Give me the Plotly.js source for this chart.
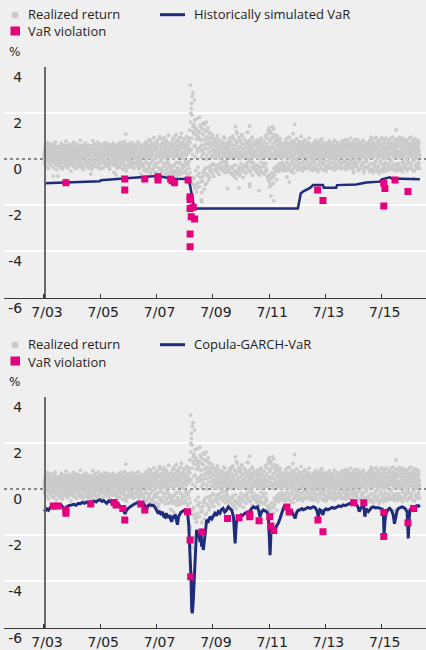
<!DOCTYPE html>
<html>
<head>
<meta charset="utf-8">
<script src="https://cdn.plot.ly/plotly-3.0.1.min.js"></script>
<style>
  html, body { margin: 0; padding: 0; background: #efefef; }
  #chart { width: 426px; height: 650px; }
</style>
</head>
<body>
<div id="chart"></div>
<script>
// ---- Daily realized returns (%, thinned), two arrays per calendar year ----
const returns2003 = [0.21, -0.12, 0.45, 0.08, 0.62, -0.31, 0.15, 0.33, -0.05, 0.71, 0.02, -0.42, 0.27, 0.51, -0.18, 0.09, 0.38, -0.26, 0.66, 0.12, -0.08, 0.44, 0.19, -0.35, 0.57, 0.03, 0.29, -0.15, 0.48, 0.11, 0.74, -0.22, 0.36, 0.06, -0.47, 0.25, 0.53, -0.02];
const returns2003b = [0.12, 0.35, -0.2, 0.5, 0.04, 0.27, -0.33, 0.41, 0.16, -0.1, 0.58, 0.22, -0.04, 0.31, 0.46, -0.25, 0.09, 0.37, 0.18, -0.15, 0.52, 0.01, 0.29, -0.38, 0.43, 0.14, 0.62, -0.08, 0.24, 0.35, -0.28, 0.07, 0.48, 0.2, -0.12];
const returns2004 = [0.18, 0.42, -0.21, 0.07, 0.55, -0.36, 0.31, 0.13, 0.68, -0.09, 0.24, -0.44, 0.47, 0.02, 0.35, -0.17, 0.59, 0.16, -0.28, 0.41, 0.05, 0.77, -0.13, 0.22, 0.49, -0.38, 0.11, 0.33, -0.06, 0.63, 0.19, -0.24, 0.45, 0.08, -0.51, 0.28, 0.56, -0.11, 0.37, 0.14, -0.32, 0.72, 0.01, 0.26, -0.19, 0.52, 0.09, 0.39, -0.41, 0.17, 0.64, -0.07, 0.3, 0.46, -0.27, 0.12, 0.58, -0.14, 0.23, 0.81, -0.35, 0.04, 0.43, 0.2, -0.23, 0.61, 0.1, -0.46, 0.34, 0.15, 0.53, -0.1, 0.27, 0.69, -0.3];
const returns2004b = [0.26, -0.05, 0.4, 0.11, -0.27, 0.49, 0.2, 0.03, 0.36, -0.16, 0.57, 0.14, -0.34, 0.3, 0.08, 0.45, -0.09, 0.22, 0.6, -0.22, 0.17, 0.38, 0.0, 0.51, -0.3, 0.25, 0.12, 0.43, -0.14, 0.33, 0.06, 0.55, -0.25, 0.19, 0.4, -0.04, 0.28, 0.66, -0.18, 0.1, 0.47, 0.23, -0.37, 0.35, 0.02, 0.52, 0.15, -0.11, 0.41, 0.27, -0.29, 0.6, 0.09, 0.32, -0.06, 0.44, 0.18, -0.2, 0.54, 0.05, 0.37, -0.33, 0.24, 0.13, 0.48, -0.12, 0.3, 0.58, 0.02, 0.2];
const returns2005 = [0.25, -0.16, 0.48, 0.07, 0.36, -0.39, 0.6, 0.13, -0.08, 0.42, 0.2, -0.29, 0.54, 0.03, 0.31, -0.45, 0.17, 0.79, 0.1, -0.2, 0.45, 0.28, -0.12, 0.66, 0.05, 0.38, -0.34, 0.22, 0.51, -0.04, 0.14, 0.73, -0.25, 0.33, 0.09, -0.42, 0.47, 0.19, 0.62, -0.15, 0.26, 0.4, -0.09, 0.57, 0.02, -0.37, 0.3, 0.16, 0.7, -0.22, 0.11, 0.44, -0.06, 0.35, 0.52, -0.31, 0.21, 0.08, 0.64, -0.18, 0.39, 0.12, -0.44, 0.27, 0.58, 0.04, -0.14, 0.46, 0.23, -0.27, 0.67, 0.15, 0.32, -0.03, 0.49];
const returns2005b = [0.18, 0.4, -0.1, 0.29, 0.52, -0.26, 0.13, 0.35, 0.06, -0.19, 0.47, 0.24, -0.35, 0.58, 0.1, 0.32, -0.05, 0.43, 0.2, -0.28, 0.63, 0.15, 0.37, -0.13, 0.27, 0.5, 0.03, -0.31, 0.41, 0.22, 0.56, -0.08, 0.12, 0.34, -0.22, 0.48, 0.08, 0.3, -0.4, 0.6, 0.19, -0.02, 0.39, 0.25, -0.17, 0.53, 0.11, 0.44, -0.27, 0.2, 0.68, 0.05, -0.12, 0.36, 0.28, -0.33, 0.46, 0.14, 0.57, -0.07, 0.23, 0.4, -0.21, 0.1, 0.5, 0.31, -0.15, 0.62, 0.17, 0.02];
const returns2006 = [0.19, -0.24, 0.41, 0.06, 0.58, -0.13, 0.29, -0.4, 0.5, 0.12, 0.34, -0.07, 0.69, 0.18, -0.32, 0.44, 0.02, 0.26, -0.19, 0.61, 0.09, 0.37, -0.45, 0.21, 0.53, -0.1, 0.14, 0.76, -0.28, 0.32, 1.08, -0.52, 0.47, 0.05, 0.24, -0.36, 0.63, 0.16, -0.05, 0.4, 0.27, -0.21, 0.55, 0.08, 0.35, -0.3, 0.71, 0.13, -0.11, 0.46, 0.22, -0.38, 0.3, 0.59, 0.03, -0.17, 0.43, 0.2, 0.66, -0.26, 0.1, 0.38, -0.08, 0.52, 0.15, -0.42, 0.28, 0.48, -0.14, 0.07, 0.62, 0.25, -0.33, 0.41, 0.17];
const returns2006b = [0.3, -0.14, 0.5, 0.16, -0.3, 0.42, 0.07, 0.62, -0.2, 0.25, 0.38, -0.06, 0.54, 0.11, -0.36, 0.33, 0.2, 0.72, -0.12, 0.28, 0.04, 0.47, -0.25, 0.15, 0.58, 0.36, -0.42, 0.22, 0.64, -0.02, 0.4, 0.1, -0.29, 0.52, 0.26, -0.16, 0.44, 0.03, 0.68, -0.34, 0.19, 0.35, -0.09, 0.56, 0.13, -0.23, 0.46, 0.29, -0.4, 0.6, 0.08, 0.37, -0.18, 0.24, 0.5, 0.0, -0.3, 0.43, 0.17, 0.74, -0.11, 0.31, 0.55, -0.26, 0.12, 0.39, -0.04, 0.48, 0.21, -0.2];
const returns2007 = [0.28, -0.3, 0.52, 0.1, -0.48, 0.66, 0.17, 0.39, -0.15, 0.74, 0.04, -0.55, 0.45, 0.23, -0.22, 0.58, 0.12, 0.85, -0.38, 0.31, 0.07, -0.62, 0.49, 0.2, 0.69, -0.1, 0.36, -0.44, 0.55, 0.14, 0.92, -0.26, 0.41, 0.02, -0.58, 0.63, 0.25, -0.18, 0.47, 0.78, -0.35, 0.16, 0.53, -0.68, 0.3, 0.97, 0.08, -0.42, 0.6, 0.21, -0.12, 0.44, 0.86, -0.5, 0.33, 0.11, 0.71, -0.29, 0.5, 0.18, -0.65, 0.38, 0.82, 0.06, -0.4, 0.57, 0.27, -0.2, 0.68, 1.02, -0.33, 0.13, 0.46, -0.56, 0.35];
const returns2007b = [0.2, 0.47, -0.22, 0.35, -0.4, 0.6, 0.09, 0.3, -0.12, 0.52, 0.24, -0.47, 0.7, 0.15, 0.41, -0.3, 0.05, 0.58, 0.33, -0.2, 0.8, 0.12, -0.52, 0.44, 0.26, -0.08, 0.65, 0.18, -0.36, 0.5, 0.01, 0.38, -0.25, 0.75, 0.22, -0.6, 0.45, 0.1, 0.62, -0.15, 0.3, 0.88, -0.45, 0.19, 0.55, -0.03, 0.4, -0.55, 0.68, 0.25, 0.05, -0.32, 0.5, 0.92, -0.2, 0.34, 0.14, 0.6, -0.48, 0.28, 0.76, -0.1, 0.42, 0.2, -0.62, 0.55, 0.08, 0.36, -0.27, 0.64];
const returns2008 = [0.32, -0.45, 0.61, 0.15, -0.62, 0.84, 0.22, -0.3, 0.5, 0.95, -0.5, 0.1, 0.68, -0.2, 0.4, 1.05, -0.7, 0.27, 0.56, -0.38, 0.13, 0.79, -0.55, 0.35, 0.9, -0.15, 0.46, -0.66, 0.6, 0.18, 1.12, -0.4, 0.3, 0.72, -0.25, 0.52, 0.05, -0.6, 0.88, 0.24, -0.33, 0.63, 0.42, -0.48, 0.16, 0.98, -0.18, 0.37, 0.58, -0.7, 0.28, 0.75, -0.1, 0.45,
  1.25, -0.95, 3.2, 1.98, 2.19, 2.41, 0.9, 2.72, -1.1, 2.87, 1.2, -0.85, 1.5, 2.55, -1.13, 0.6, 1.35, -1.28, 1.05, -1.43, 0.3, 1.75, -0.7, 1.1, -1.2, 0.85];
const returns2008b = [0.4, -0.35, 0.7, 0.2, -0.55, 0.52, 0.05, 0.88, -0.28, 0.33, 0.62, -0.6, 0.15, 0.45, -0.15, 0.8, 0.26, -0.45, 0.58, 0.1, -0.68, 0.7, 0.36, -0.2, 0.95, 0.12, -0.5, 0.48, 0.22, -0.35, 0.66, 0.02, 0.85, -0.58, 0.3, 0.55, -0.12, 0.42, 0.18, -0.62, 0.75, 0.28, -0.25, 0.5, 0.9, -0.42, 0.35,
  0.7, -0.6, 1.6, 0.4, -1.0, 1.9, 0.2, 1.4, -0.8, 1.1, 0.55, -1.25, 1.7, 0.1, -0.5, 1.3, 0.85, -1.05, 0.45, 1.2, -0.35, 0.95];
const returns2009 = [0.9, -1.2, 1.8, 0.35, -0.8, 1.4, -1.77, 0.6, 1.1, -0.95, 0.2, 1.55, -0.6, 0.85, -1.3, 0.45, 1.25, -0.4, 0.7, 1.6, -1.05, 0.15, 0.95, -0.7, 1.35, 0.3, -0.9, 0.75, 1.15, -0.5, 0.5, -0.3, 0.92, 0.12, -0.62, 0.68, 1.05, -0.2, 0.4, -0.75, 0.58, 0.22, 0.88, -0.45, 0.33, 0.05, 0.72, -0.55, 0.48, 1.0, -0.25, 0.18, 0.62, -0.66, 0.38, 0.82, 0.02, -0.4, 0.55, 0.28, -0.15, 0.76, 0.42, -0.5, 0.1, 0.64, 0.95, -0.3, 0.36, 0.2, -0.6, 0.7, 0.47, -0.1, 0.58];
const returns2009b = [1.2, -0.6, 0.5, 1.45, -1.0, 0.8, 0.1, -1.45, 1.3, 0.4, -0.75, 1.05, 0.25, -0.5, 1.5, 0.6, -1.1, 0.9, 0.0, 1.2, -0.65, 0.45, 0.85, -0.35, 0.65, 1.1, -0.8, 0.3, 0.75, -0.45, 0.55, 0.15, -0.6, 0.9, 0.35, -0.25, 0.6, 0.05, 0.78, -0.5, 0.4, 0.2, -0.3, 0.7, 0.5, -0.55, 0.25, 0.85, 0.1, -0.4, 0.62, 0.32, -0.2, 0.5, 0.08, 0.74, -0.35, 0.44, 0.18, -0.5, 0.66, 0.28, -0.1, 0.52, 0.9, -0.42, 0.3, 0.12, 0.6, -0.22];
const returns2010 = [0.3, -0.55, 0.62, 0.15, -0.5, 0.48, 0.1, 0.8, 0.05, -0.4, 0.7, 0.25, -0.65, 0.95, 0.4, -0.3, 0.58, 0.12, -0.75, 0.85, 0.2, -0.5, 1.4, 0.35, -0.85, 0.68, 0.08, 1.1, -0.6, 0.45, 0.22, -0.38, 0.9, 0.1, -0.72, 0.55, 0.78, -0.2, 0.32, 1.02, -0.48, 0.18, 0.64, -0.8, 0.42, 0.06, 0.88, -0.35, 0.5, 0.26, -0.62, 0.74, 0.14, -0.25, 0.6, 1.15, -0.45, 0.38, 0.03, 0.82, 1.42, -0.55, 0.28, 0.66, -0.15, 0.48, 0.95, -0.7, 0.2, 0.57, -0.4, 0.12, 0.75, 0.36, -0.28];
const returns2010b = [0.4, -0.3, 0.72, 0.1, -0.45, 0.55, 0.25, 0.9, -0.6, 0.35, 0.05, 0.65, -0.4, 0.2, 1.0, -0.7, 0.45, 0.15, -0.55, 0.8, 0.3, -0.25, 0.6, 1.2, -0.65, 0.38, 0.1, 0.75, -0.5, 0.28, 0.92, -0.35, 0.5, 0.02, -0.6, 0.7, 0.22, 1.05, -0.42, 0.4, 0.12, 0.62, -0.3, 0.85, 0.18, -0.55, 0.52, 0.3, -0.2, 0.68, 1.15, -0.38, 0.25, 0.55, -0.1, 0.42, 0.78, -0.5, 0.2, 0.6, 0.05, -0.32, 0.48, 0.9, -0.15, 0.35, 0.62, -0.45, 0.28, 0.15];
const returns2011 = [0.25, -0.45, 0.6, 0.1, -0.6, 0.82, 0.35, -0.3, 0.5, 0.15, -0.7, 0.72, 0.04, 0.44, -0.5, 0.9, 0.2, -0.35, 0.62, 0.08, -0.62, 0.55, 0.3, -0.2, 0.78, 0.12, -0.55, 0.4, 0.95, -0.4, 0.22, 0.65, -0.75, 0.33, 1.1, -0.9, 0.5, 1.35, -1.0, 0.75, 0.15, 1.2, -0.85, 0.45, 0.9, -0.6, 1.4, 0.05, -1.05, 0.68, 0.28, -0.7, 1.05, 0.4, -0.45, 0.8, 0.18, -0.9, 0.6, 1.0, -0.35, 0.3, 0.72, -0.55, 0.1, 0.5, 0.88, -0.4, 0.2, 0.62, -0.25, 0.42, 0.05, 0.7, -0.5];
const returns2011b = [0.35, -0.25, 0.55, 0.15, -0.5, 0.7, 0.05, 0.45, -0.35, 0.62, 0.25, -0.55, 0.4, 0.85, -0.15, 0.3, 0.1, -0.6, 0.58, 0.2, 0.75, -0.3, 0.42, -0.65, 0.5, 1.0, -0.2, 0.28, 0.65, -0.5, 0.9, 0.1, -0.85, 1.25, 0.45, -0.7, 0.8, 0.3, -1.15, 1.1, 0.55, -0.6, 0.2, 0.95, -0.8, 0.5, 1.3, -0.4, 0.15, 0.75, -0.55, 0.35, 0.9, -0.3, 0.6, 0.1, -0.45, 0.52, 0.25, 0.8, -0.2, 0.4, 0.05, 0.65, -0.35, 0.3, 0.55, -0.15, 0.45, 0.2];
const returns2012 = [0.3, -0.4, 0.65, 0.12, -0.25, 0.5, 0.85, -0.5, 0.2, 0.42, -0.15, 0.7, 0.05, -0.45, 0.55, 0.28, 0.95, -0.3, 0.38, 0.1, -0.55, 0.62, 0.22, 0.8, -0.2, 0.45, 0.02, -0.6, 0.72, 0.18, 1.5, -0.35, 0.5, 0.25, -0.1, 0.88, 0.35, -0.48, 0.6, 0.08, 0.4, -0.28, 0.75, 0.15, -0.4, 0.52, 0.3, 0.98, -0.18, 0.44, 0.06, -0.52, 0.66, 0.2, 0.38, -0.3, 0.58, 0.12, 0.82, -0.42, 0.26, 0.48, -0.12, 0.7, 0.04, -0.36, 0.55, 0.32, 0.9, -0.22, 0.16, 0.6, -0.46, 0.4, 0.24];
const returns2012b = [0.2, 0.55, -0.3, 0.4, 0.1, -0.45, 0.7, 0.25, -0.15, 0.5, 0.9, -0.35, 0.32, 0.05, 0.62, -0.22, 0.45, 0.15, -0.5, 0.75, 0.28, -0.08, 0.58, 0.1, 1.1, -0.4, 0.36, 0.2, 0.68, -0.25, 0.45, 0.02, 0.85, -0.32, 0.25, 0.55, -0.12, 0.4, 0.65, -0.45, 0.18, 0.5, 0.3, -0.2, 0.72, 0.08, -0.38, 0.48, 0.22, 0.6, -0.1, 0.35, 0.8, -0.28, 0.15, 0.52, 0.4, -0.42, 0.26, 0.64, 0.05, -0.18, 0.46, 0.3, 0.7, -0.34, 0.2, 0.55, 0.1, -0.05];
const returns2013 = [0.2, -0.35, 0.55, 0.1, -0.5, 0.68, 0.3, -0.15, 0.45, 0.05, 0.8, -0.42, 0.25, 0.6, -0.25, 0.38, 0.12, -0.55, 0.72, 0.18, -0.08, 0.5, 0.32, -0.38, 0.62, 0.02, 0.42, -0.2, 0.88, 0.15, -0.45, 0.35, 0.58, -0.1, 0.27, 0.7, -0.3, 0.08, 0.48, -0.52, 0.22, 0.64, 0.1, -0.28, 0.52, 0.36, -0.05, 0.78, 0.14, -0.4, 0.3, 0.6, -0.18, 0.44, 0.04, 0.66, -0.34, 0.24, 0.5, -0.12, 0.82, 0.18, -0.48, 0.4, 0.07, 0.56, -0.22, 0.3, 0.72, -0.38, 0.12, 0.46, -0.06, 0.6, 0.26];
const returns2013b = [0.3, -0.2, 0.48, 0.15, -0.4, 0.6, 0.22, -0.08, 0.4, 0.72, -0.3, 0.1, 0.52, 0.28, -0.45, 0.35, 0.65, 0.05, -0.22, 0.45, 0.2, 0.8, -0.35, 0.3, 0.12, 0.55, -0.15, 0.38, 0.7, -0.48, 0.25, 0.08, 0.5, -0.25, 0.42, 0.62, 0.15, -0.4, 0.32, 0.56, -0.1, 0.22, 0.74, -0.32, 0.4, 0.06, 0.5, -0.2, 0.3, 0.66, 0.18, -0.42, 0.45, 0.1, 0.58, -0.14, 0.34, 0.76, -0.28, 0.2, 0.48, 0.02, -0.36, 0.54, 0.26, 0.68, -0.18, 0.38, 0.12, 0.5];
const returns2014 = [0.25, -0.3, 0.6, 0.12, -0.42, 0.5, 0.78, -0.18, 0.35, 0.05, 0.66, -0.38, 0.22, 0.48, -0.1, 0.85, 0.15, -0.45, 0.4, 0.28, -0.25, 0.7, 0.08, 0.52, -0.35, 0.3, 0.62, -0.05, 0.18, 0.9, -0.4, 0.42, 0.1, -0.2, 0.58, 0.34, -0.48, 0.75, 0.2, -0.12, 0.46, 0.03, 0.68, -0.32, 0.26, 0.55, -0.22, 0.38, 0.84, -0.5, 0.14, 0.5, -0.08, 0.64, 0.3, -0.42, 0.22, 0.72, 0.06, -0.28, 0.56, 0.36, -0.15, 0.8, 0.1, -0.46, 0.44, 0.2, 0.65, -0.35, 0.28, 0.52, -0.02, 0.4, 0.7];
const returns2014b = [0.35, -0.2, 0.52, 0.1, -0.35, 0.68, 0.22, 0.45, -0.12, 0.3, 0.75, -0.4, 0.18, 0.55, 0.05, -0.28, 0.62, 0.3, -0.15, 0.48, 0.8, -0.38, 0.26, 0.1, 0.58, -0.22, 0.4, 0.7, -0.05, 0.2, 0.5, -0.42, 0.35, 0.64, 0.12, -0.3, 0.45, 0.25, 0.85, -0.18, 0.32, 0.05, 0.6, -0.35, 0.42, 0.18, 0.72, -0.1, 0.3, 0.54, -0.45, 0.22, 0.66, 0.08, -0.25, 0.48, 0.36, 0.78, -0.2, 0.15, 0.56, -0.38, 0.28, 0.62, 0.02, 0.4, -0.12, 0.5, 0.24, 0.68];
const returns2015 = [0.3, -0.4, 0.65, 0.1, -0.55, 0.8, 0.2, -0.2, 0.5, 0.95, -0.45, 0.35, 0.05, 0.7, -0.6, 0.25, 0.55, -0.3, 0.42, 0.88, -0.15, 0.15, 0.62, -0.5, 0.38, 0.75, 0.02, -0.35, 0.5, 0.28, -0.62, 0.82, 0.18, -0.1, 0.6, 0.4, -0.48, 0.92, 0.08, -0.25, 0.55, 0.3, -0.55, 0.72, 0.12, 0.45, -0.4, 0.85, 0.22, -0.18, 0.6, 0.04, -0.5, 0.68, 0.35, -0.3, 0.78, 0.15, 0.5, -0.45, 0.26, 0.9, -0.08, 0.4, 0.62, -0.35, 0.2, 0.74, -0.22, 0.48, 0.1, -0.5, 0.58, 0.32, 0.85];
const returns2015b = [0.2, 0.5, -0.3, 0.38, 0.75, -0.45, 0.15, 0.6, 0.3, -0.2, 0.85, 0.08, -0.5, 0.45, 0.25, 0.7, -0.35, 0.12, 0.55, -0.1, 0.4, 0.92, -0.4, 0.22, 0.6, 0.05, -0.28, 0.5, 0.78, -0.52, 0.3, 0.1, 0.65, -0.18, 0.42, 0.85, -0.4, 0.2, 0.55, 0.02, -0.3, 0.72, 0.35, -0.15, 0.5, 0.9, -0.45, 0.25, 0.62, 0.1, -0.35, 0.45, 0.8, -0.22, 0.3, 0.58, -0.05, 0.4, 0.7, -0.42, 0.18, 0.52, 0.95, -0.25, 0.35, 0.65, 0.05, -0.38, 0.48, 0.22];
const returns2016 = [1.26, -0.3, 0.6, 0.15, -0.5, 0.75, 0.3, -0.2, 0.92, 0.05, -0.45, 0.55, 0.22, 0.8, -0.35, 0.4, 0.1, -0.55, 0.68, 0.28, -0.12, 0.5, 0.85, -0.4, 0.18, 0.62, -0.25, 0.38, 0.02, 0.72, -0.5, 0.45, 0.2, -0.18, 0.58, 0.9, -0.38, 0.3, 0.12, 0.65, -0.3, 0.48, 0.08, -0.45, 0.78, 0.25, -0.08, 0.55, 0.35, -0.52, 0.7, 0.15, 0.42, -0.22, 0.6, 0.04, 0.82, -0.35, 0.28, 0.5, -0.15, 0.66, 0.2, -0.4];
const returns2016b = [0.4, -0.2, 0.7, 0.1, -0.4, 0.55, 0.25, 0.85, -0.3, 0.35, 0.05, 0.62, -0.45, 0.2, 0.5, 0.9, -0.15, 0.3, 0.68, -0.35, 0.12, 0.48, 0.75, -0.25, 0.4, 0.02, 0.6, -0.42, 0.28, 0.8, -0.1, 0.45, 0.15, 0.65, -0.38, 0.22, 0.55, 0.95, -0.2, 0.35, 0.1, 0.7, -0.48, 0.3, 0.58, -0.05, 0.42, 0.88, -0.3, 0.18, 0.5, 0.25, -0.4, 0.62, 0.08, 0.45, 0.78, -0.22, 0.35, 0.15];

// Period covered by each block (decimal years)
const returnBlocks = [
  [2003.5, 2004, returns2003], [2003.5, 2004, returns2003b],
  [2004, 2005, returns2004], [2004, 2005, returns2004b],
  [2005, 2006, returns2005], [2005, 2006, returns2005b],
  [2006, 2007, returns2006], [2006, 2007, returns2006b],
  [2007, 2008, returns2007], [2007, 2008, returns2007b],
  [2008, 2009, returns2008], [2008, 2009, returns2008b],
  [2009, 2010, returns2009], [2009, 2010, returns2009b],
  [2010, 2011, returns2010], [2010, 2011, returns2010b],
  [2011, 2012, returns2011], [2011, 2012, returns2011b],
  [2012, 2013, returns2012], [2012, 2013, returns2012b],
  [2013, 2014, returns2013], [2013, 2014, returns2013b],
  [2014, 2015, returns2014], [2014, 2015, returns2014b],
  [2015, 2016, returns2015], [2015, 2016, returns2015b],
  [2016, 2016.85, returns2016], [2016, 2016.85, returns2016b]
];

// ---- Historically simulated VaR (%), decimal-year dates ----
const histVaRDates = [2003.5, 2004.5, 2005.48, 2005.52, 2006.44, 2007.14, 2007.5, 2007.7, 2008.03, 2008.57, 2008.67, 2008.72, 2008.78, 2008.84, 2012.52, 2012.58, 2012.62, 2012.7, 2012.88, 2012.95, 2013.06, 2013.41, 2013.44, 2013.88, 2013.91, 2014.59, 2014.95, 2015.42, 2015.5, 2015.78, 2015.85, 2016.85];
const histVaR = [-1.05, -1.01, -0.96, -0.92, -0.84, -0.77, -0.74, -0.77, -0.85, -0.87, -1.05, -1.34, -1.77, -2.14, -2.14, -1.7, -1.49, -1.41, -1.3, -1.25, -1.13, -1.13, -1.24, -1.24, -1.13, -1.1, -1.02, -0.98, -0.88, -0.79, -0.84, -0.88];
const histViolDates = [2004.28, 2006.37, 2006.37, 2007.08, 2007.55, 2007.55, 2008.0, 2008.05, 2008.14, 2008.62, 2008.69, 2008.69, 2008.69, 2008.8, 2008.73, 2008.85, 2008.69, 2008.69, 2013.22, 2013.41, 2015.57, 2015.61, 2015.57, 2015.97, 2016.43];
const histViolReturns = [-1.03, -0.87, -1.34, -0.87, -0.77, -0.91, -0.87, -0.94, -1.03, -0.91, -1.63, -1.75, -2.14, -2.09, -2.5, -2.6, -3.25, -3.8, -1.34, -1.8, -1.05, -1.28, -2.03, -0.91, -1.41];

// ---- Copula-GARCH VaR (%), decimal-year dates ----
const garchVaRDates = [2003.5, 2003.55, 2003.6, 2003.66, 2003.72, 2003.77, 2003.83, 2003.9, 2003.96, 2004.02, 2004.07, 2004.12, 2004.18, 2004.22, 2004.25, 2004.3, 2004.38, 2004.48, 2004.56, 2004.64, 2004.72, 2004.78, 2004.86, 2004.94, 2005.02, 2005.08, 2005.13, 2005.2, 2005.28, 2005.35, 2005.42, 2005.49, 2005.56, 2005.62, 2005.68, 2005.73, 2005.8, 2005.86, 2005.9, 2005.96, 2006.02, 2006.08, 2006.14, 2006.2, 2006.26, 2006.32, 2006.38, 2006.42, 2006.49, 2006.56, 2006.62, 2006.67, 2006.74, 2006.8, 2006.85, 2006.92, 2006.98, 2007.03, 2007.1, 2007.15, 2007.2, 2007.26, 2007.32, 2007.38, 2007.44, 2007.5, 2007.56, 2007.6, 2007.66, 2007.7, 2007.75, 2007.8, 2007.84, 2007.9, 2007.95, 2008.0, 2008.04, 2008.08, 2008.12, 2008.16, 2008.2, 2008.24, 2008.28, 2008.32, 2008.36, 2008.4, 2008.46, 2008.51, 2008.56, 2008.6, 2008.64, 2008.68, 2008.72, 2008.75, 2008.77, 2008.8, 2008.82, 2008.86, 2008.89, 2008.92, 2008.96, 2009.01, 2009.05, 2009.08, 2009.1, 2009.13, 2009.16, 2009.19, 2009.22, 2009.28, 2009.34, 2009.4, 2009.46, 2009.52, 2009.57, 2009.63, 2009.69, 2009.75, 2009.8, 2009.86, 2009.92, 2009.98, 2010.05, 2010.11, 2010.17, 2010.23, 2010.29, 2010.33, 2010.38, 2010.44, 2010.5, 2010.56, 2010.64, 2010.72, 2010.8, 2010.87, 2010.94, 2011.02, 2011.08, 2011.13, 2011.17, 2011.23, 2011.29, 2011.35, 2011.41, 2011.47, 2011.53, 2011.57, 2011.61, 2011.66, 2011.71, 2011.76, 2011.82, 2011.88, 2011.94, 2012.0, 2012.06, 2012.12, 2012.18, 2012.24, 2012.3, 2012.36, 2012.42, 2012.48, 2012.54, 2012.59, 2012.66, 2012.72, 2012.8, 2012.88, 2012.96, 2013.07, 2013.14, 2013.2, 2013.24, 2013.3, 2013.36, 2013.4, 2013.46, 2013.52, 2013.58, 2013.66, 2013.74, 2013.82, 2013.9, 2013.98, 2014.06, 2014.13, 2014.2, 2014.28, 2014.37, 2014.44, 2014.5, 2014.55, 2014.62, 2014.66, 2014.7, 2014.75, 2014.8, 2014.86, 2014.9, 2014.94, 2015.02, 2015.08, 2015.14, 2015.2, 2015.28, 2015.36, 2015.44, 2015.52, 2015.56, 2015.58, 2015.61, 2015.65, 2015.72, 2015.78, 2015.84, 2015.9, 2015.95, 2016.0, 2016.04, 2016.09, 2016.16, 2016.22, 2016.28, 2016.34, 2016.4, 2016.44, 2016.47, 2016.5, 2016.56, 2016.62, 2016.68, 2016.74, 2016.8, 2016.85];
const garchVaR = [-0.88, -0.95, -0.86, -0.92, -0.8, -0.76, -0.82, -0.74, -0.79, -0.72, -0.76, -0.7, -0.8, -0.95, -1.02, -0.78, -0.72, -0.69, -0.66, -0.7, -0.62, -0.64, -0.58, -0.62, -0.56, -0.6, -0.55, -0.58, -0.52, -0.56, -0.49, -0.47, -0.54, -0.5, -0.58, -0.62, -0.52, -0.56, -0.5, -0.55, -0.6, -0.58, -0.66, -0.7, -0.78, -0.9, -1.08, -0.95, -0.84, -0.76, -0.72, -0.68, -0.64, -0.62, -0.57, -0.6, -0.64, -0.62, -0.76, -0.86, -0.72, -0.68, -0.72, -0.7, -0.78, -0.9, -1.06, -0.95, -1.12, -0.98, -1.18, -1.22, -1.05, -1.25, -1.12, -1.32, -1.42, -1.15, -1.28, -1.1, -1.35, -1.55, -1.2, -1.08, -1.02, -0.98, -0.92, -0.9, -0.95, -1.05, -1.49, -2.5, -3.8, -5.24, -5.38, -4.9, -4.37, -3.66, -2.6, -1.77, -1.95, -2.06, -2.3, -1.9, -2.5, -2.2, -2.64, -2.3, -1.77, -1.34, -1.4, -1.2, -1.3, -1.12, -1.05, -1.15, -0.98, -1.05, -0.9, -0.84, -1.0, -0.92, -0.77, -0.85, -0.91, -1.2, -2.35, -1.5, -1.2, -1.25, -1.12, -1.15, -1.05, -1.0, -0.98, -0.85, -0.77, -0.82, -0.77, -0.95, -1.2, -1.0, -0.91, -0.95, -0.98, -1.1, -2.86, -1.7, -1.56, -1.72, -1.77, -1.6, -1.49, -1.3, -1.05, -0.85, -0.69, -0.8, -0.91, -1.05, -0.96, -1.1, -1.27, -1.0, -0.91, -0.91, -0.85, -0.9, -0.84, -0.8, -0.84, -0.77, -0.82, -0.95, -1.2, -0.9, -0.95, -1.12, -0.92, -0.86, -0.9, -0.84, -0.8, -0.84, -0.77, -0.73, -0.76, -0.69, -0.72, -0.66, -0.62, -0.6, -0.58, -0.55, -0.72, -0.8, -0.98, -0.82, -0.78, -0.72, -1.2, -0.85, -0.98, -0.86, -0.8, -0.77, -0.82, -0.8, -0.84, -0.88, -1.2, -1.99, -1.4, -1.05, -0.9, -0.84, -0.92, -1.1, -1.5, -1.12, -0.95, -0.84, -0.8, -0.77, -0.8, -0.86, -1.0, -2.14, -1.3, -0.91, -0.84, -0.78, -0.77, -0.72, -0.75, -0.69];
const garchViolDates = [2003.83, 2004.0, 2004.28, 2004.28, 2005.16, 2005.99, 2006.06, 2006.3, 2006.37, 2006.94, 2007.08, 2008.6, 2008.69, 2008.71, 2009.11, 2010.02, 2010.43, 2010.81, 2010.81, 2011.14, 2011.52, 2011.56, 2011.66, 2012.13, 2012.21, 2013.23, 2013.41, 2014.5, 2014.86, 2015.57, 2015.57, 2016.43, 2016.63];
const garchViolReturns = [-0.74, -0.74, -0.91, -1.05, -0.65, -0.58, -0.69, -0.84, -1.34, -0.65, -0.91, -0.98, -2.21, -3.8, -1.86, -1.28, -1.24, -1.08, -1.2, -1.37, -1.2, -1.6, -1.8, -0.78, -1.0, -1.34, -1.85, -0.59, -0.59, -1.02, -2.06, -1.46, -0.84];

// ---- Axis ticks ----
const xRange = [2002.08, 2017.07];
const xTickVals = [2003.5, 2005.5, 2007.5, 2009.5, 2011.5, 2013.5, 2015.5];
const xTickText = ['7/03', '7/05', '7/07', '7/09', '7/11', '7/13', '7/15'];
const yTickVals = [-6, -4, -2, 0, 2, 4];
const yTickText = ['-6', '-4', '-2', '0', '2', '4'];
const gridVals = [4, 2, -2, -4];

// ---- Return cloud: each block spread evenly over its period ----
const dotX = [], dotY = [];
returnBlocks.forEach(([start, end, vals]) => {
  const step = (end - start) / vals.length;
  vals.forEach((v, i) => { dotX.push(start + (i + 0.5) * step); dotY.push(v); });
});
// Tail returns (the violation days) belong to the same return series
histViolDates.forEach((d, i) => { dotX.push(d); dotY.push(histViolReturns[i]); });
garchViolDates.forEach((d, i) => { dotX.push(d); dotY.push(garchViolReturns[i]); });

const GRAY = '#cacbca', NAVY = '#1f2c7c', PINK = '#e5007d';
const TICK_FONT = { family: 'DejaVu Sans, Verdana, sans-serif', size: 14, color: '#222' };
const TEXT_FONT = { family: 'Open Sans, sans-serif', size: 13, color: '#1e1e1e' };

function panelTraces(xa, ya, varX, varY, varWidth, violX, violY) {
  return [
    { type: 'scatter', mode: 'markers', x: dotX, y: dotY, xaxis: xa, yaxis: ya,
      marker: { size: 3.8, color: GRAY }, hoverinfo: 'skip', showlegend: false },
    { type: 'scatter', mode: 'lines', x: varX, y: varY, xaxis: xa, yaxis: ya,
      line: { color: NAVY, width: varWidth }, showlegend: false },
    { type: 'scatter', mode: 'markers', x: violX, y: violY, xaxis: xa, yaxis: ya,
      marker: { symbol: 'square', size: 7, color: PINK }, showlegend: false }
  ];
}

const traces = [
  ...panelTraces('x', 'y', histVaRDates, histVaR, 2.5, histViolDates, histViolReturns),
  ...panelTraces('x2', 'y2', garchVaRDates, garchVaR, 3, garchViolDates, garchViolReturns)
];

// Pixel helpers for the legend block (plot area spans x 4..426, full height)
const W = 426, H = 650, ML = 4;
const px = v => (v - ML) / (W - ML);
const py = v => (H - v) / H;

function xAxis(anchor) {
  return {
    anchor: anchor, domain: [0, 1], range: xRange,
    tickvals: xTickVals, ticktext: xTickText, tickfont: TICK_FONT,
    showgrid: false, zeroline: false, showline: true, linecolor: '#3a3a3a', linewidth: 1.5,
    ticks: 'inside', ticklen: 4, tickcolor: '#3a3a3a', tickwidth: 1.2,
    ticklabelstandoff: 1, ticklabelshift: 3, automargin: false, fixedrange: true
  };
}
function yAxis(domain) {
  return {
    domain: domain, anchor: 'free', position: px(44), range: [-6, 4],
    tickvals: yTickVals, ticktext: yTickText, tickfont: TICK_FONT,
    showgrid: false, zeroline: false, showline: true, linecolor: '#6b6b6b', linewidth: 1.5,
    // white gridlines at every labelled level except zero
    minor: { tickmode: 'array', tickvals: gridVals, ticks: '', showgrid: true, gridcolor: '#ffffff', gridwidth: 2 },
    ticks: '', ticklabelstandoff: 19, ticklabelshift: 10, automargin: false, fixedrange: true
  };
}

const shapes = [];
const annotations = [];
[['x', 'y', 0], ['x2', 'y2', 330]].forEach(([xref, yref, off], k) => {
  // dotted zero line, under the data
  shapes.push({ type: 'line', xref: xref, yref: yref, x0: xRange[0], x1: xRange[1], y0: 0, y1: 0,
    line: { color: '#222', width: 1.1, dash: 'dot' }, layer: 'below' });
  // legend symbols
  shapes.push({ type: 'circle', xref: 'paper', yref: 'paper', x0: px(11.5), x1: px(18.5), y0: py(off + 18.5), y1: py(off + 11.5),
    fillcolor: GRAY, line: { width: 0 } });
  shapes.push({ type: 'line', xref: 'paper', yref: 'paper', x0: px(160), x1: px(185), y0: py(off + 14.7), y1: py(off + 14.7),
    line: { color: NAVY, width: 3 } });
  shapes.push({ type: 'rect', xref: 'paper', yref: 'paper', x0: px(10.5), x1: px(20), y0: py(off + 35.5), y1: py(off + 26.5),
    fillcolor: PINK, line: { width: 0 } });
  const leg = (text, x, y) => annotations.push({ xref: 'paper', yref: 'paper', x: px(x), y: py(y), text: text,
    showarrow: false, xanchor: 'left', yanchor: 'middle', borderpad: 0, font: TEXT_FONT });
  leg('Realized return', 27, off + 14);
  leg(k === 0 ? 'Historically simulated VaR' : 'Copula-GARCH-VaR', 193, off + 14);
  leg('VaR violation', 27, off + 31.5);
  annotations.push({ xref: 'paper', yref: 'paper', x: px(14), y: py(off + 52), text: '%', showarrow: false,
    xanchor: 'center', yanchor: 'middle', borderpad: 0, font: { family: 'DejaVu Sans, sans-serif', size: 12, color: '#222' } });
});

const layout = {
  width: W, height: H,
  margin: { l: ML, r: 0, t: 0, b: 0 },
  paper_bgcolor: '#efefef', plot_bgcolor: 'rgba(0,0,0,0)',
  showlegend: false,
  xaxis: xAxis('y'),
  yaxis: yAxis([(H - 297.6) / H, (H - 66.6) / H]),
  xaxis2: xAxis('y2'),
  yaxis2: yAxis([(H - 627.6) / H, (H - 396.6) / H]),
  shapes: shapes,
  annotations: annotations
};

Plotly.newPlot('chart', traces, layout, { displayModeBar: false, staticPlot: true });
</script>
</body>
</html>
